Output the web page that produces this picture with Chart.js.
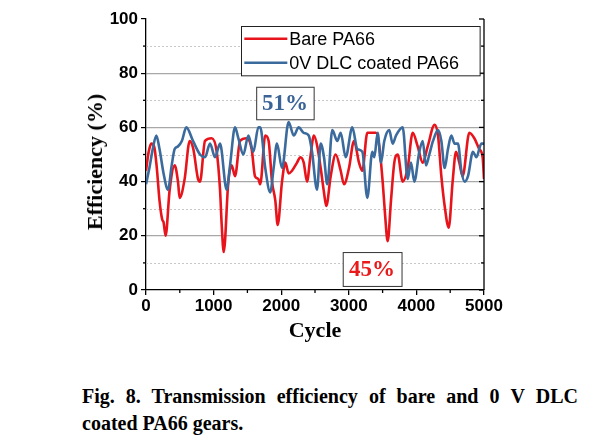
<!DOCTYPE html>
<html><head><meta charset="utf-8">
<script src="https://cdn.jsdelivr.net/npm/chart.js@4/dist/chart.umd.min.js"></script>
<style>
html,body{margin:0;padding:0;background:#fff;}
#wrap{position:relative;width:595px;height:441px;overflow:hidden;}
#cv{position:absolute;left:0;top:0;}
#ytitle{position:absolute;left:95px;top:162px;transform:translate(-50%,-50%) rotate(-90deg);white-space:nowrap;font-family:"Liberation Serif","Times New Roman",serif;font-weight:bold;font-size:22px;color:#000;}
#cap{position:absolute;left:82px;top:383px;width:496px;font-family:"Liberation Serif","Times New Roman",serif;font-weight:bold;font-size:20px;line-height:27px;text-align:justify;color:#000;}
</style></head>
<body><div id="wrap"><canvas id="cv" width="595" height="345"></canvas>
<div id="ytitle">Efficiency (%)</div>
<div id="cap">Fig. 8. Transmission efficiency of bare and 0&nbsp;V DLC coated PA66 gears.</div></div>
<script>
const seriesNames = ["Bare PA66", "0V DLC coated PA66"];
const redCycle = [0,40,78,120,160,200,240,260,290,350,424,473,498,572,646,700,769,799,873,972,1046,1095,1120,1150,1218,1267,1317,1391,1489,1563,1612,1660,1690,1764,1814,1864,1913,1948,2012,2061,2110,2160,2234,2283,2333,2382,2431,2485,2534,2584,2633,2667,2732,2806,2880,2929,3003,3077,3151,3200,3274,3328,3402,3451,3501,3536,3575,3624,3673,3723,3797,3871,3945,4019,4093,4167,4270,4320,4369,4418,4478,4536,4586,4635,4684,4783,4857,4931,4980,5000];
const redEff = [44,51,54,53,45,33,26,25,20,37,46,40,34,41,55,52,41,40,55,56,51,37,24,14,40,46,42,55,56,52,42,41,39,57,55,40,33,24,40,47,43,44,47,49,47,40,49,57,53,45,36,31,42,50,44,39,45,55,47,44,58,58,58,53,40,28,18,33,47,50,40,45,58,53,47,53,61,57,42,31,23,40,51,47,42,58,56,52,49,41];
const blueCycle = [0,50,100,153,200,260,325,380,424,473,530,597,695,799,873,947,1021,1095,1193,1243,1317,1366,1440,1514,1588,1662,1690,1764,1838,1888,1937,2012,2110,2185,2259,2333,2407,2456,2530,2584,2633,2682,2756,2830,2880,2954,3052,3126,3200,3274,3348,3377,3427,3476,3525,3599,3648,3698,3797,3871,3920,3969,4043,4093,4142,4191,4246,4320,4369,4418,4467,4516,4566,4615,4665,4714,4763,4837,4887,4961,5000];
const blueEff = [39,45,52,57,52,43,37,46,52,53,55,60,55,50,49,54,49,54,37,46,60,56,50,57,51,60,60,45,36,45,54,45,62,57,60,58,57,51,37,54,49,39,59,55,58,49,60,52,51,34,51,49,58,47,55,59,54,57,60,41,47,40,51,55,46,50,55,59,55,45,52,57,54,54,44,40,42,51,49,54,54];
const yMajor = [0,20,40,60,80,100];
const yMinor = [10,30,50,70,90];
const xMinor = [500,1500,2500,3500,4500];
const notes = [{text:"51%", color:"#3a6496", x0:1630, x1:2480, y0:63, y1:75},
               {text:"45%", color:"#e81a1a", x0:2910, x1:3780, y0:1.5, y1:14}];

const RED = "#e8141c", BLUE = "#3b6a9c";
const toXY = (xs, ys) => xs.map((x,i)=>({x:x, y:ys[i]}));

const deco = {
  id:"deco",
  beforeDatasetsDraw(chart){
    const {ctx, chartArea:a, scales:{x,y}} = chart;
    ctx.save();
    ctx.strokeStyle = "#c8c8c8"; ctx.lineWidth = 1; ctx.setLineDash([2,2]);
    yMinor.forEach(v=>{const p=Math.round(y.getPixelForValue(v))+0.5;ctx.beginPath();ctx.moveTo(a.left,p);ctx.lineTo(a.right,p);ctx.stroke();});
    ctx.restore();
  },
  afterDatasetsDraw(chart){
    const {ctx, chartArea:a, scales:{x,y}} = chart;
    ctx.save();
    ctx.strokeStyle="#000"; ctx.lineWidth=1.3;
    ctx.beginPath(); ctx.moveTo(a.right,a.top); ctx.lineTo(a.right,a.bottom); ctx.stroke();
    yMajor.forEach(v=>{const p=y.getPixelForValue(v);ctx.beginPath();ctx.moveTo(a.right,p);ctx.lineTo(a.right-5,p);ctx.stroke();});
    yMinor.forEach(v=>{const p=y.getPixelForValue(v);ctx.beginPath();ctx.moveTo(a.right,p);ctx.lineTo(a.right-3,p);ctx.stroke();});
    yMinor.forEach(v=>{const p=y.getPixelForValue(v);ctx.beginPath();ctx.moveTo(a.left,p);ctx.lineTo(a.left-3,p);ctx.stroke();});
    xMinor.forEach(v=>{const p=x.getPixelForValue(v);ctx.beginPath();ctx.moveTo(p,a.bottom);ctx.lineTo(p,a.bottom+3);ctx.stroke();});
    notes.forEach(n=>{
      const l=x.getPixelForValue(n.x0), r=x.getPixelForValue(n.x1), t=y.getPixelForValue(n.y1), b=y.getPixelForValue(n.y0);
      ctx.fillStyle="#fff"; ctx.fillRect(l,t,r-l,b-t);
      ctx.strokeStyle="#333"; ctx.lineWidth=1; ctx.strokeRect(l+0.5,t+0.5,r-l,b-t);
      ctx.fillStyle=n.color; ctx.font="bold 23px 'Liberation Serif', serif"; ctx.textAlign="center"; ctx.textBaseline="middle";
      ctx.fillText(n.text,(l+r)/2,(t+b)/2+1);
    });
    const lx0=x.getPixelForValue(1410), lx1=x.getPixelForValue(4940), ly0=y.getPixelForValue(97.5), ly1=y.getPixelForValue(79.3);
    ctx.fillStyle="#fff"; ctx.fillRect(lx0,ly0,lx1-lx0,ly1-ly0);
    ctx.strokeStyle="#222"; ctx.lineWidth=1; ctx.strokeRect(Math.round(lx0)+0.5,Math.round(ly0)+0.5,lx1-lx0,ly1-ly0);
    const rows=[{c:RED,t:seriesNames[0]},{c:BLUE,t:seriesNames[1]}];
    rows.forEach((r,i)=>{
      const yy=ly0+13+i*24;
      ctx.strokeStyle=r.c; ctx.lineWidth=2.5; ctx.beginPath(); ctx.moveTo(lx0+3,yy); ctx.lineTo(lx0+46,yy); ctx.stroke();
      ctx.fillStyle="#000"; ctx.font="18px 'Liberation Sans', Arial, sans-serif"; ctx.textAlign="left"; ctx.textBaseline="middle";
      ctx.fillText(r.t,lx0+48,yy+1);
    });
    ctx.restore();
  }
};

new Chart(document.getElementById("cv"), {
  type:"line",
  data:{datasets:[
    {label:seriesNames[1], data:toXY(blueCycle,blueEff), borderColor:BLUE, borderWidth:2.6, pointRadius:0, cubicInterpolationMode:"monotone", fill:false, order:0},
    {label:seriesNames[0], data:toXY(redCycle,redEff), borderColor:RED, borderWidth:2.6, pointRadius:0, cubicInterpolationMode:"monotone", fill:false, order:1}
  ]},
  options:{
    responsive:false, animation:false, devicePixelRatio:1,
    layout:{padding:{left:0,right:111,top:19,bottom:0}},
    plugins:{legend:{display:false}, tooltip:{enabled:false}},
    scales:{
      x:{type:"linear", min:0, max:5000,
        ticks:{stepSize:1000, color:"#000", callback:(v)=>String(v), font:{family:"'Liberation Sans', Arial, sans-serif", size:17, weight:"bold"}, padding:1, maxRotation:0},
        grid:{drawOnChartArea:false, color:"#000", tickLength:5, lineWidth:1.3},
        border:{color:"#000", width:1.3},
        title:{display:true, text:"Cycle", color:"#000", font:{family:"'Liberation Serif', serif", size:22, weight:"bold"}, padding:{top:0,bottom:0}},
        afterFit(s){ s.height = 55; }
      },
      y:{min:0, max:100,
        afterBuildTicks(s){ s.ticks = yMajor.map(v=>({value:v})); },
        ticks:{color:"#000", callback:(v)=>String(v), font:{family:"'Liberation Sans', Arial, sans-serif", size:17, weight:"bold"}, padding:3},
        grid:{color:(c)=> (c.tick && (c.tick.value===0||c.tick.value===100)) ? "rgba(0,0,0,0)" : "#a8a8a8", tickColor:"#000", tickLength:5, lineWidth:1.2},
        border:{color:"#000", width:1.3},
        title:{display:false},
        afterFit(s){ s.width = 146; }
      }
    }
  },
  plugins:[deco]
});
</script></body></html>
